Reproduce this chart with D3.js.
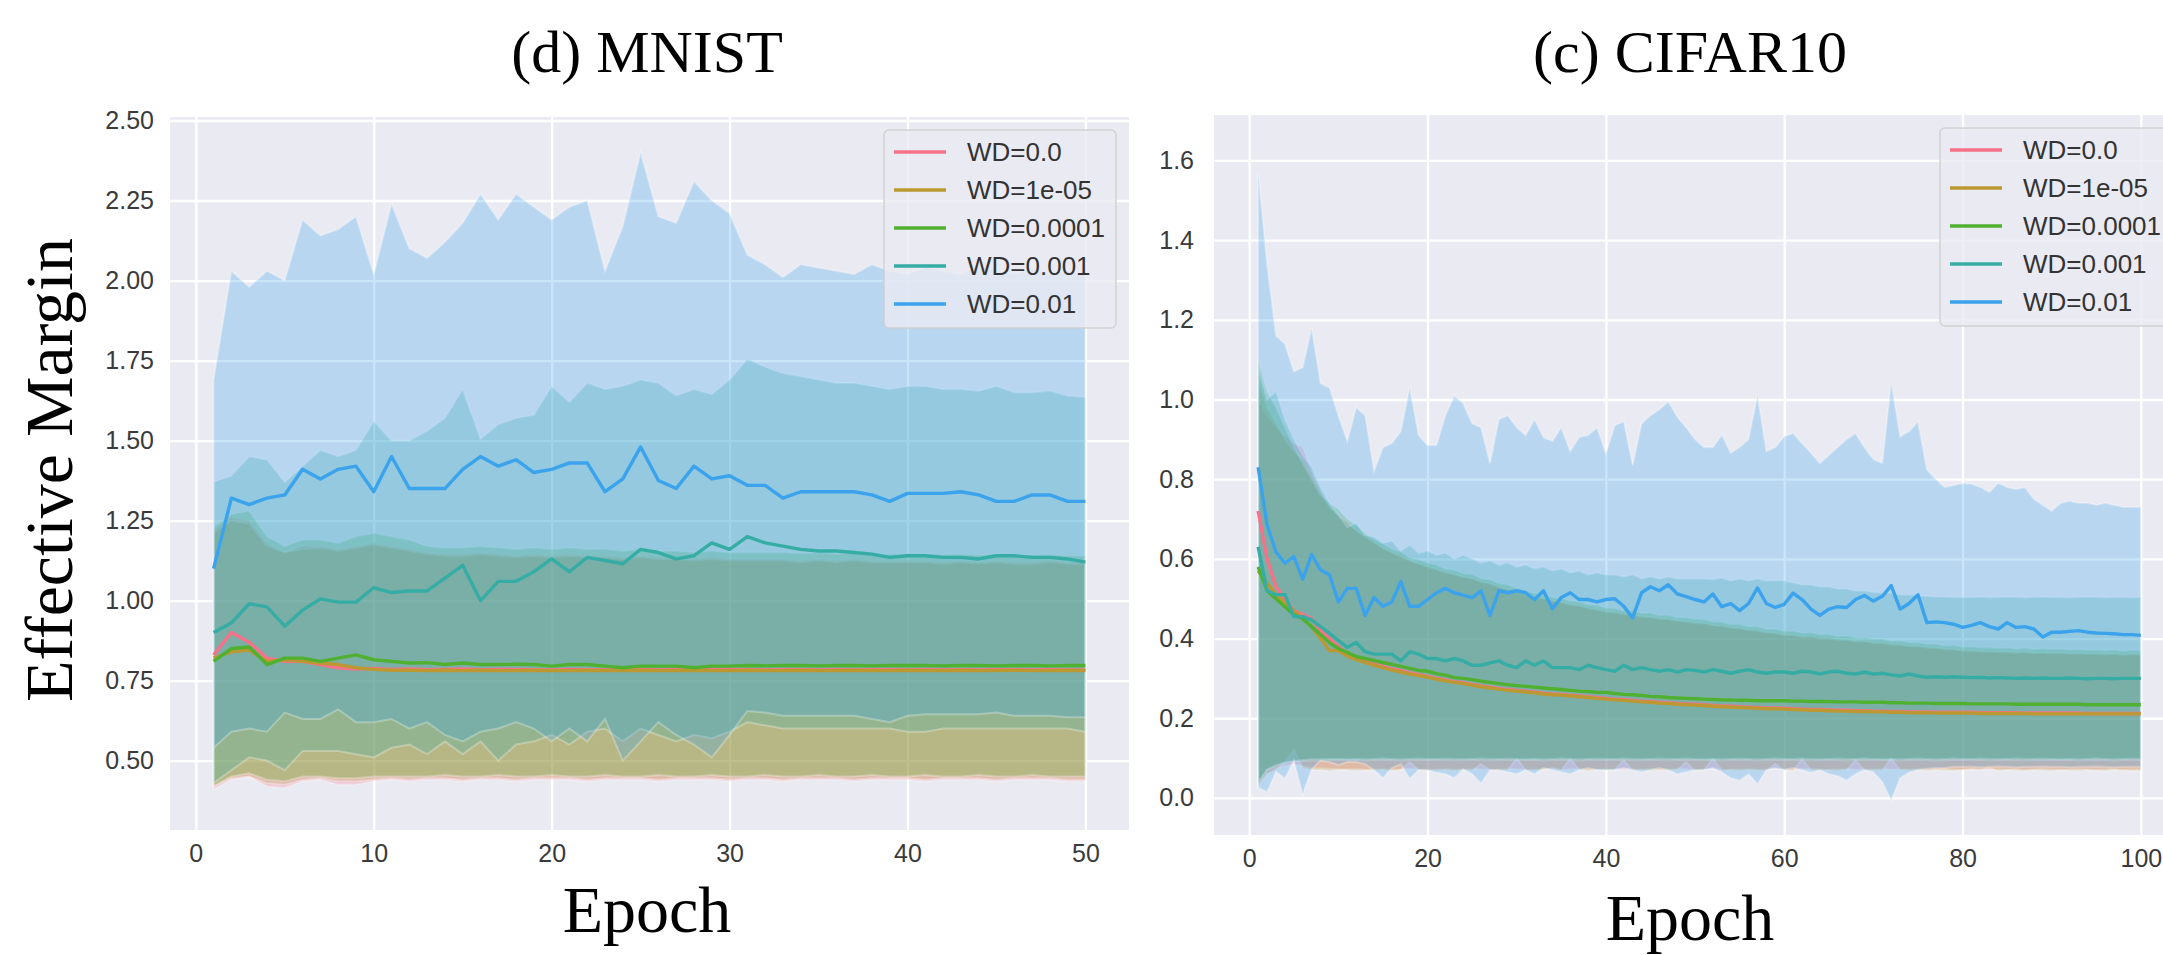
<!DOCTYPE html>
<html><head><meta charset="utf-8">
<script src="https://cdn.jsdelivr.net/npm/d3@7/dist/d3.min.js"></script>
<style>body{margin:0;background:#fff}svg{display:block}</style>
</head><body>
<svg id="chart" width="2163" height="955"></svg>
<script>
// ---------- legend / series ----------
const seriesNames = ["WD=0.0","WD=1e-05","WD=0.0001","WD=0.001","WD=0.01"];
const seriesColors = ["#f77189","#bb9832","#50b131","#36ada4","#3ba3ec"];

// ---------- tick labels ----------
const mnistXTicks = [0,10,20,30,40,50];
const mnistYTicks = [0.50,0.75,1.00,1.25,1.50,1.75,2.00,2.25,2.50];
const cifarXTicks = [0,20,40,60,80,100];
const cifarYTicks = [0.0,0.2,0.4,0.6,0.8,1.0,1.2,1.4,1.6];

// ---------- MNIST (epochs 1..50) ----------
const mnistMean0 = [0.83,0.90,0.87,0.82,0.81,0.81,0.80,0.79,0.786,0.788, 0.785,0.786,0.784,0.785,0.786,0.784,0.785,0.785,0.784,0.783, 0.785,0.784,0.783,0.784,0.785,0.783,0.784,0.783,0.784,0.785, 0.784,0.783,0.784,0.784,0.783,0.784,0.783,0.784,0.784,0.783, 0.784,0.783,0.784,0.783,0.784,0.784,0.783,0.784,0.783,0.783];
const mnistLo0 = [0.41,0.44,0.45,0.42,0.415,0.435,0.44,0.425,0.425,0.435, 0.44,0.435,0.44,0.44,0.435,0.44,0.44,0.435,0.44,0.44, 0.44,0.435,0.44,0.44,0.44,0.435,0.44,0.44,0.44,0.435, 0.44,0.44,0.435,0.44,0.44,0.44,0.435,0.44,0.44,0.44, 0.435,0.44,0.44,0.44,0.435,0.44,0.44,0.44,0.435,0.435];
const mnistHi0 = [1.22,1.26,1.25,1.18,1.15,1.17,1.17,1.16,1.17,1.18, 1.17,1.16,1.15,1.145,1.145,1.15,1.145,1.14,1.145,1.14, 1.145,1.14,1.14,1.135,1.14,1.135,1.135,1.13,1.135,1.13, 1.13,1.13,1.13,1.125,1.13,1.125,1.13,1.125,1.125,1.125, 1.125,1.12,1.125,1.12,1.125,1.12,1.12,1.125,1.12,1.12];

const mnistMean1 = [0.82,0.84,0.845,0.81,0.815,0.81,0.805,0.80,0.79,0.785, 0.782,0.782,0.781,0.782,0.781,0.782,0.781,0.781,0.782,0.781, 0.781,0.782,0.781,0.781,0.782,0.781,0.781,0.782,0.781,0.781, 0.782,0.781,0.781,0.782,0.781,0.781,0.782,0.781,0.781,0.782, 0.781,0.781,0.782,0.781,0.781,0.782,0.781,0.781,0.782,0.781];
const mnistLo1 = [0.42,0.445,0.45,0.43,0.425,0.44,0.445,0.435,0.435,0.44, 0.445,0.44,0.445,0.445,0.44,0.445,0.445,0.44,0.445,0.445, 0.445,0.44,0.445,0.445,0.445,0.44,0.445,0.445,0.445,0.44, 0.445,0.445,0.44,0.445,0.445,0.445,0.44,0.445,0.445,0.445, 0.44,0.445,0.445,0.445,0.44,0.445,0.445,0.445,0.44,0.44];
const mnistHi1 = [1.21,1.25,1.24,1.17,1.15,1.16,1.165,1.155,1.165,1.175, 1.165,1.155,1.145,1.14,1.14,1.145,1.14,1.135,1.14,1.135, 1.14,1.135,1.135,1.13,1.135,1.13,1.13,1.125,1.13,1.125, 1.125,1.125,1.125,1.12,1.125,1.12,1.125,1.12,1.12,1.12, 1.12,1.115,1.12,1.115,1.12,1.115,1.115,1.12,1.115,1.115];

const mnistMean2 = [0.81,0.85,0.855,0.80,0.82,0.82,0.81,0.82,0.83,0.815, 0.81,0.805,0.806,0.80,0.805,0.80,0.80,0.801,0.80,0.795, 0.80,0.80,0.795,0.79,0.795,0.795,0.795,0.79,0.795,0.795, 0.797,0.796,0.797,0.797,0.796,0.797,0.797,0.796,0.797,0.797, 0.797,0.796,0.797,0.797,0.796,0.797,0.797,0.796,0.797,0.797];
const mnistLo2 = [0.42,0.45,0.46,0.44,0.435,0.45,0.45,0.445,0.445,0.45, 0.45,0.45,0.45,0.455,0.45,0.45,0.455,0.45,0.45,0.455, 0.45,0.45,0.455,0.45,0.45,0.455,0.45,0.45,0.455,0.45, 0.45,0.455,0.45,0.45,0.455,0.45,0.45,0.455,0.45,0.45, 0.455,0.45,0.45,0.455,0.45,0.45,0.455,0.45,0.45,0.45];
const mnistHi2 = [1.23,1.27,1.28,1.20,1.17,1.19,1.19,1.18,1.20,1.21, 1.20,1.19,1.17,1.165,1.165,1.17,1.165,1.16,1.165,1.16, 1.165,1.16,1.16,1.155,1.16,1.155,1.155,1.15,1.155,1.15, 1.15,1.15,1.15,1.148,1.15,1.146,1.15,1.146,1.145,1.146, 1.145,1.143,1.145,1.142,1.145,1.142,1.142,1.144,1.14,1.14];

const mnistMean3 = [0.90,0.93,0.99,0.98,0.92,0.97,1.005,0.995,0.995,1.04, 1.025,1.03,1.03,1.07,1.11,1.00,1.06,1.06,1.09,1.13, 1.09,1.135,1.125,1.115,1.16,1.15,1.13,1.14,1.18,1.16, 1.20,1.18,1.17,1.16,1.155,1.155,1.15,1.145,1.135,1.14, 1.14,1.135,1.135,1.13,1.14,1.14,1.135,1.135,1.13,1.12];
const mnistLo3 = [0.43,0.47,0.51,0.50,0.47,0.53,0.53,0.53,0.52,0.51, 0.54,0.55,0.52,0.56,0.52,0.56,0.50,0.55,0.56,0.58, 0.55,0.59,0.60,0.56,0.60,0.58,0.56,0.58,0.57,0.59, 0.62,0.61,0.60,0.60,0.60,0.60,0.60,0.60,0.60,0.59, 0.59,0.60,0.60,0.60,0.60,0.60,0.60,0.60,0.60,0.59];
const mnistHi3 = [1.37,1.39,1.45,1.44,1.37,1.42,1.47,1.45,1.47,1.56, 1.50,1.50,1.53,1.57,1.66,1.505,1.55,1.57,1.58,1.67, 1.62,1.68,1.66,1.67,1.69,1.68,1.64,1.66,1.645,1.69, 1.755,1.73,1.71,1.70,1.69,1.68,1.68,1.67,1.66,1.67, 1.67,1.66,1.66,1.655,1.67,1.65,1.65,1.655,1.64,1.635];

const mnistMean4 = [1.10,1.32,1.30,1.32,1.33,1.41,1.38,1.41,1.42,1.34, 1.45,1.35,1.35,1.35,1.41,1.45,1.42,1.44,1.40,1.41, 1.43,1.43,1.34,1.38,1.48,1.375,1.35,1.42,1.38,1.39, 1.36,1.36,1.32,1.34,1.34,1.34,1.34,1.33,1.31,1.335, 1.335,1.335,1.34,1.33,1.31,1.31,1.33,1.33,1.31,1.31];
const mnistLo4 = [0.54,0.59,0.60,0.59,0.65,0.63,0.63,0.66,0.62,0.62, 0.63,0.60,0.62,0.58,0.56,0.59,0.60,0.62,0.60,0.56, 0.60,0.56,0.63,0.50,0.56,0.62,0.58,0.55,0.51,0.58, 0.655,0.65,0.64,0.64,0.64,0.64,0.64,0.63,0.62,0.64, 0.645,0.645,0.645,0.645,0.65,0.64,0.64,0.64,0.635,0.635];
const mnistHi4 = [1.69,2.03,1.98,2.03,2.00,2.19,2.14,2.16,2.20,2.02, 2.24,2.10,2.07,2.12,2.18,2.27,2.19,2.27,2.23,2.19, 2.23,2.25,2.03,2.17,2.40,2.20,2.18,2.31,2.25,2.21, 2.08,2.05,2.01,2.05,2.04,2.03,2.02,2.05,2.03,2.02, 2.04,2.03,2.02,2.05,2.03,2.02,2.04,2.02,2.03,2.02];

// ---------- CIFAR10 (epochs 1..100) ----------
const cifarMean0 = [0.72,0.60,0.53,0.50,0.47,0.46,0.45,0.42,0.40,0.38, 0.362,0.352,0.342,0.336,0.33,0.324,0.32,0.314,0.31,0.305, 0.30,0.296,0.292,0.289,0.285,0.281,0.278,0.275,0.272,0.27, 0.268,0.266,0.263,0.261,0.26,0.258,0.256,0.254,0.252,0.25, 0.248,0.247,0.245,0.243,0.242,0.24,0.239,0.237,0.236,0.235, 0.234,0.232,0.231,0.23,0.229,0.228,0.227,0.226,0.226,0.225, 0.224,0.223,0.222,0.222,0.221,0.22,0.22,0.219,0.219,0.218, 0.218,0.217,0.217,0.216,0.216,0.216,0.215,0.215,0.215,0.215, 0.215,0.214,0.214,0.214,0.214,0.214,0.213,0.213,0.213,0.213, 0.213,0.213,0.213,0.212,0.212,0.212,0.212,0.212,0.212,0.212];
const cifarLo0 = [0.03,0.06,0.075,0.08,0.085,0.08,0.075,0.075,0.074,0.073, 0.072,0.073,0.071,0.072,0.073,0.071,0.072,0.073,0.072,0.071, 0.072,0.073,0.071,0.072,0.073,0.072,0.071,0.072,0.073,0.072, 0.071,0.072,0.073,0.072,0.071,0.072,0.073,0.071,0.072,0.072, 0.073,0.071,0.072,0.072,0.073,0.071,0.072,0.073,0.072,0.071, 0.072,0.073,0.071,0.072,0.072,0.073,0.071,0.072,0.073,0.072, 0.071,0.072,0.073,0.072,0.071,0.072,0.073,0.071,0.072,0.072, 0.073,0.071,0.072,0.072,0.073,0.071,0.072,0.073,0.072,0.071, 0.072,0.073,0.071,0.072,0.072,0.073,0.071,0.072,0.073,0.072, 0.071,0.072,0.073,0.072,0.071,0.072,0.073,0.071,0.072,0.072];
const cifarHi0 = [1.00,0.96,0.93,0.91,0.89,0.88,0.82,0.77,0.73,0.71, 0.69,0.67,0.655,0.64,0.625,0.615,0.605,0.595,0.587,0.58, 0.573,0.567,0.561,0.555,0.55,0.543,0.537,0.53,0.523,0.517, 0.51,0.505,0.50,0.495,0.49,0.486,0.482,0.477,0.472,0.468, 0.465,0.462,0.459,0.456,0.453,0.45,0.448,0.445,0.442,0.44, 0.437,0.434,0.431,0.428,0.425,0.422,0.419,0.416,0.413,0.41, 0.408,0.406,0.404,0.402,0.40,0.398,0.396,0.394,0.392,0.39, 0.388,0.386,0.384,0.382,0.38,0.378,0.376,0.374,0.372,0.37, 0.369,0.368,0.367,0.367,0.366,0.365,0.365,0.364,0.364,0.364, 0.363,0.363,0.362,0.362,0.361,0.361,0.361,0.36,0.36,0.36];

const cifarMean1 = [0.57,0.54,0.51,0.49,0.47,0.45,0.43,0.40,0.37,0.37, 0.356,0.347,0.34,0.333,0.327,0.321,0.316,0.311,0.307,0.303, 0.298,0.294,0.29,0.287,0.283,0.279,0.276,0.273,0.27,0.268, 0.266,0.264,0.261,0.259,0.258,0.256,0.254,0.252,0.25,0.248, 0.246,0.245,0.243,0.241,0.24,0.238,0.237,0.235,0.234,0.233, 0.232,0.23,0.229,0.228,0.227,0.226,0.225,0.224,0.224,0.223, 0.222,0.221,0.22,0.22,0.219,0.218,0.218,0.217,0.217,0.216, 0.216,0.215,0.215,0.214,0.214,0.214,0.213,0.213,0.213,0.213, 0.213,0.212,0.212,0.212,0.212,0.212,0.212,0.211,0.211,0.211, 0.211,0.211,0.211,0.211,0.211,0.211,0.211,0.211,0.211,0.211];
const cifarLo1 = [0.03,0.06,0.07,0.09,0.12,0.075,0.07,0.07,0.068,0.07, 0.07,0.068,0.07,0.069,0.07,0.068,0.07,0.09,0.07,0.068, 0.069,0.07,0.068,0.07,0.069,0.085,0.07,0.068,0.07,0.10, 0.07,0.068,0.07,0.075,0.069,0.10,0.07,0.068,0.07,0.069, 0.07,0.095,0.069,0.07,0.068,0.07,0.069,0.07,0.09,0.068, 0.07,0.10,0.069,0.07,0.068,0.07,0.069,0.068,0.085,0.07, 0.068,0.098,0.07,0.069,0.07,0.068,0.07,0.095,0.069,0.07, 0.068,0.10,0.07,0.069,0.07,0.068,0.07,0.069,0.068,0.07, 0.072,0.07,0.075,0.068,0.07,0.069,0.068,0.07,0.069,0.068, 0.07,0.069,0.068,0.07,0.069,0.068,0.07,0.069,0.068,0.068];
const cifarHi1 = [1.05,0.98,0.94,0.90,0.87,0.85,0.81,0.77,0.73,0.71, 0.69,0.672,0.656,0.642,0.628,0.616,0.607,0.596,0.588,0.58, 0.574,0.566,0.561,0.554,0.551,0.542,0.538,0.529,0.524,0.516, 0.511,0.504,0.501,0.494,0.491,0.485,0.483,0.476,0.473,0.467, 0.466,0.461,0.46,0.455,0.454,0.449,0.449,0.444,0.443,0.439, 0.438,0.433,0.432,0.427,0.426,0.421,0.42,0.415,0.414,0.409, 0.409,0.405,0.405,0.401,0.401,0.397,0.397,0.393,0.393,0.389, 0.389,0.385,0.385,0.381,0.381,0.377,0.377,0.373,0.373,0.369, 0.37,0.367,0.368,0.366,0.367,0.364,0.366,0.363,0.365,0.363, 0.364,0.362,0.363,0.361,0.362,0.36,0.362,0.359,0.361,0.36];

const cifarMean2 = [0.58,0.52,0.50,0.48,0.46,0.45,0.43,0.41,0.39,0.375, 0.365,0.355,0.35,0.345,0.34,0.335,0.33,0.325,0.32,0.318, 0.312,0.308,0.302,0.30,0.297,0.293,0.29,0.287,0.284,0.282, 0.28,0.278,0.276,0.274,0.272,0.27,0.268,0.267,0.265,0.265, 0.262,0.26,0.259,0.257,0.255,0.254,0.252,0.251,0.25,0.249, 0.248,0.247,0.246,0.246,0.245,0.245,0.244,0.244,0.244,0.244, 0.243,0.243,0.242,0.242,0.242,0.241,0.241,0.241,0.240,0.240, 0.240,0.239,0.239,0.238,0.238,0.238,0.237,0.237,0.237,0.237, 0.236,0.236,0.236,0.236,0.236,0.235,0.235,0.235,0.235,0.235, 0.235,0.235,0.235,0.234,0.234,0.234,0.234,0.234,0.234,0.234];
const cifarLo2 = [0.035,0.07,0.08,0.09,0.092,0.093,0.094,0.094,0.095,0.095, 0.095,0.096,0.094,0.095,0.096,0.095,0.094,0.095,0.096,0.095, 0.095,0.096,0.094,0.095,0.096,0.095,0.094,0.095,0.096,0.095, 0.095,0.096,0.094,0.095,0.096,0.095,0.094,0.095,0.096,0.095, 0.095,0.096,0.094,0.095,0.096,0.095,0.094,0.095,0.096,0.095, 0.095,0.096,0.094,0.095,0.096,0.095,0.094,0.095,0.096,0.095, 0.095,0.096,0.094,0.095,0.096,0.095,0.094,0.095,0.096,0.095, 0.095,0.096,0.094,0.095,0.096,0.095,0.094,0.095,0.096,0.095, 0.095,0.096,0.094,0.095,0.096,0.095,0.094,0.095,0.096,0.095, 0.095,0.096,0.094,0.095,0.096,0.095,0.094,0.095,0.096,0.095];
const cifarHi2 = [1.10,1.02,0.98,0.93,0.88,0.84,0.80,0.76,0.74,0.725, 0.70,0.685,0.665,0.65,0.638,0.625,0.618,0.603,0.598,0.59, 0.585,0.575,0.572,0.563,0.562,0.551,0.548,0.538,0.535,0.526, 0.521,0.513,0.511,0.503,0.502,0.494,0.493,0.485,0.484,0.477, 0.476,0.47,0.47,0.464,0.464,0.458,0.459,0.453,0.453,0.449, 0.448,0.442,0.442,0.436,0.436,0.43,0.43,0.424,0.424,0.419, 0.419,0.414,0.415,0.41,0.411,0.406,0.407,0.402,0.403,0.399, 0.399,0.394,0.395,0.39,0.391,0.386,0.387,0.382,0.383,0.379, 0.38,0.377,0.378,0.376,0.377,0.374,0.376,0.373,0.375,0.373, 0.374,0.372,0.373,0.371,0.372,0.37,0.372,0.369,0.371,0.37];

const cifarMean3 = [0.63,0.52,0.51,0.51,0.455,0.455,0.447,0.43,0.413,0.395, 0.378,0.39,0.367,0.361,0.361,0.361,0.344,0.367,0.361,0.35, 0.35,0.344,0.35,0.344,0.333,0.333,0.339,0.344,0.333,0.327, 0.344,0.333,0.344,0.327,0.327,0.327,0.322,0.333,0.327,0.322, 0.318,0.333,0.322,0.327,0.322,0.318,0.322,0.316,0.322,0.320, 0.316,0.322,0.318,0.313,0.318,0.322,0.316,0.313,0.316,0.316, 0.313,0.318,0.316,0.311,0.316,0.318,0.313,0.311,0.316,0.311, 0.313,0.309,0.306,0.311,0.306,0.303,0.304,0.303,0.304,0.303, 0.302,0.303,0.301,0.302,0.301,0.300,0.301,0.300,0.301,0.300, 0.300,0.301,0.300,0.299,0.300,0.300,0.299,0.300,0.300,0.300];
const cifarLo3 = [0.04,0.072,0.082,0.088,0.092,0.095,0.097,0.097,0.098,0.098, 0.097,0.098,0.097,0.098,0.099,0.098,0.097,0.098,0.099,0.098, 0.098,0.099,0.098,0.097,0.098,0.099,0.098,0.098,0.099,0.098, 0.097,0.098,0.097,0.098,0.099,0.098,0.097,0.098,0.099,0.098, 0.098,0.099,0.098,0.097,0.098,0.099,0.098,0.098,0.099,0.098, 0.097,0.098,0.097,0.098,0.099,0.098,0.097,0.098,0.099,0.098, 0.098,0.099,0.098,0.097,0.098,0.099,0.098,0.098,0.099,0.098, 0.097,0.098,0.097,0.098,0.099,0.098,0.097,0.098,0.099,0.098, 0.098,0.099,0.098,0.097,0.098,0.099,0.098,0.098,0.099,0.098, 0.097,0.098,0.097,0.098,0.099,0.098,0.097,0.098,0.099,0.098];
const cifarHi3 = [1.08,1.00,1.02,0.95,0.90,0.86,0.83,0.78,0.74,0.71, 0.68,0.69,0.66,0.655,0.64,0.645,0.62,0.635,0.615,0.62, 0.61,0.615,0.60,0.61,0.60,0.59,0.595,0.585,0.59,0.58, 0.585,0.575,0.58,0.57,0.575,0.565,0.57,0.56,0.565,0.56, 0.56,0.555,0.56,0.55,0.555,0.55,0.555,0.55,0.55,0.55, 0.55,0.548,0.552,0.545,0.55,0.545,0.55,0.545,0.546,0.545, 0.54,0.535,0.535,0.53,0.53,0.525,0.525,0.52,0.52,0.516, 0.515,0.515,0.51,0.51,0.508,0.506,0.505,0.505,0.504,0.504, 0.504,0.505,0.503,0.504,0.505,0.504,0.503,0.504,0.505,0.504, 0.504,0.503,0.504,0.505,0.504,0.503,0.504,0.504,0.503,0.504];

const cifarMean4 = [0.83,0.685,0.617,0.589,0.606,0.549,0.611,0.572,0.560,0.492, 0.526,0.526,0.458,0.503,0.481,0.492,0.543,0.481,0.481,0.498, 0.515,0.526,0.515,0.509,0.503,0.520,0.458,0.520,0.515,0.520, 0.515,0.498,0.520,0.475,0.503,0.515,0.498,0.498,0.492,0.498, 0.500,0.481,0.452,0.515,0.530,0.520,0.535,0.512,0.505,0.498, 0.492,0.512,0.480,0.488,0.470,0.488,0.527,0.488,0.478,0.486, 0.514,0.498,0.474,0.458,0.474,0.480,0.478,0.498,0.508,0.494, 0.506,0.533,0.474,0.488,0.510,0.440,0.442,0.440,0.436,0.428, 0.433,0.440,0.430,0.424,0.440,0.428,0.430,0.424,0.404,0.416, 0.416,0.418,0.420,0.416,0.414,0.413,0.412,0.410,0.410,0.408];
const cifarLo4 = [0.026,0.015,0.066,0.049,0.094,0.009,0.072,0.094,0.090,0.083, 0.090,0.090,0.085,0.070,0.050,0.075,0.085,0.049,0.070,0.070, 0.064,0.060,0.050,0.072,0.060,0.037,0.070,0.070,0.065,0.060, 0.070,0.060,0.075,0.070,0.065,0.060,0.070,0.075,0.070,0.070, 0.070,0.075,0.070,0.065,0.070,0.075,0.070,0.060,0.065,0.070, 0.070,0.075,0.065,0.050,0.044,0.060,0.035,0.070,0.075,0.070, 0.075,0.070,0.064,0.070,0.060,0.055,0.044,0.060,0.070,0.065, 0.040,-0.006,0.050,0.064,0.070,0.073,0.075,0.075,0.078,0.078, 0.078,0.077,0.078,0.079,0.078,0.077,0.078,0.078,0.079,0.078, 0.078,0.077,0.078,0.078,0.079,0.078,0.077,0.078,0.078,0.078];
const cifarHi4 = [1.57,1.34,1.16,1.14,1.07,1.08,1.18,1.04,1.03,0.96, 0.895,0.98,0.96,0.82,0.88,0.89,0.92,1.03,0.91,0.885, 0.885,0.96,1.01,0.99,0.94,0.93,0.84,0.95,0.96,0.93, 0.91,0.95,0.905,0.895,0.93,0.87,0.905,0.91,0.93,0.865, 0.935,0.945,0.835,0.94,0.96,0.975,0.995,0.957,0.93,0.90, 0.88,0.88,0.911,0.866,0.88,0.90,1.01,0.87,0.88,0.907, 0.915,0.89,0.866,0.84,0.86,0.88,0.90,0.915,0.88,0.85, 0.84,1.044,0.907,0.92,0.944,0.824,0.80,0.78,0.785,0.79, 0.788,0.78,0.767,0.79,0.78,0.775,0.78,0.75,0.735,0.72, 0.74,0.745,0.74,0.74,0.735,0.74,0.735,0.73,0.73,0.73];

// ---------- drawing ----------
const svg = d3.select("#chart");
const BAND_ALPHA = 0.28;
const SANS = "'Liberation Sans', Arial, sans-serif";
const SERIF = "'Liberation Serif', 'Times New Roman', serif";

function drawPanel(p) {
  const g = svg.append("g");
  const x = d3.scaleLinear().domain(p.xDomain).range(p.xRange);
  const y = d3.scaleLinear().domain(p.yDomain).range(p.yRange);
  const left = p.xRange[0], right = p.xRange[1], top = p.yRange[1], bottom = p.yRange[0];

  g.append("rect").attr("x", left).attr("y", top)
    .attr("width", right - left).attr("height", bottom - top).attr("fill", "#eaeaf2");

  // grid
  g.append("g").attr("transform", `translate(0,${bottom})`)
    .call(d3.axisBottom(x).tickValues(p.xTicks).tickSize(-(bottom - top)).tickFormat(""))
    .call(a => a.select(".domain").remove())
    .call(a => a.selectAll("line").attr("stroke", "#fff").attr("stroke-width", 2.3));
  g.append("g").attr("transform", `translate(${left},0)`)
    .call(d3.axisLeft(y).tickValues(p.yTicks).tickSize(-(right - left)).tickFormat(""))
    .call(a => a.select(".domain").remove())
    .call(a => a.selectAll("line").attr("stroke", "#fff").attr("stroke-width", 2.3));

  const data = p.series.map(s => s.mean.map((m, i) => ({ e: i + 1, m: m, lo: s.lo[i], hi: s.hi[i] })));

  const area = d3.area().x(d => x(d.e)).y0(d => y(d.lo)).y1(d => y(d.hi));
  const line = d3.line().x(d => x(d.e)).y(d => y(d.m));

  data.forEach((d, k) => {
    g.append("path").attr("d", area(d))
      .attr("fill", seriesColors[k]).attr("fill-opacity", BAND_ALPHA)
      .attr("stroke", "#ffffff").attr("stroke-opacity", BAND_ALPHA).attr("stroke-width", 2);
  });
  data.forEach((d, k) => {
    g.append("path").attr("d", line(d))
      .attr("fill", "none").attr("stroke", seriesColors[k])
      .attr("stroke-width", 3.4).attr("stroke-linejoin", "round").attr("stroke-linecap", "butt");
  });

  // tick labels
  const yAx = g.append("g").attr("transform", `translate(${left},0)`)
    .call(d3.axisLeft(y).tickValues(p.yTicks).tickSize(0).tickPadding(p.yPad).tickFormat(d3.format(p.yFmt)));
  yAx.select(".domain").remove();
  yAx.selectAll("text").attr("font-family", SANS).attr("font-size", 25).attr("fill", "#3a3a3a");
  const xAx = g.append("g").attr("transform", `translate(0,${bottom})`)
    .call(d3.axisBottom(x).tickValues(p.xTicks).tickSize(0).tickPadding(p.xPad).tickFormat(d3.format("d")));
  xAx.select(".domain").remove();
  xAx.selectAll("text").attr("font-family", SANS).attr("font-size", 25).attr("fill", "#3a3a3a");

  // legend (upper right)
  const lw = 232, lh = 198;
  const lx = right - 13 - lw, ly = top + 13;
  const lg = g.append("g");
  lg.append("rect").attr("x", lx).attr("y", ly).attr("width", lw).attr("height", lh)
    .attr("rx", 5).attr("fill", "#eaeaf2").attr("fill-opacity", 0.8)
    .attr("stroke", "#cccccc").attr("stroke-opacity", 0.8).attr("stroke-width", 1.5);
  seriesNames.forEach((name, k) => {
    const cy = ly + 22 + k * 38;
    lg.append("line").attr("x1", lx + 10).attr("x2", lx + 62).attr("y1", cy).attr("y2", cy)
      .attr("stroke", seriesColors[k]).attr("stroke-width", 3.4);
    lg.append("text").attr("x", lx + 83).attr("y", cy).attr("dy", "0.36em")
      .attr("font-family", SANS).attr("font-size", 26).attr("fill", "#333").text(name);
  });

  // title & x label
  svg.append("text").attr("x", p.titleX).attr("y", 72).attr("text-anchor", "middle")
    .attr("font-family", SERIF).attr("font-size", 60).attr("fill", "#000").text(p.title);
  svg.append("text").attr("x", p.titleX).attr("y", p.xlabelY).attr("text-anchor", "middle")
    .attr("font-family", SERIF).attr("font-size", 66).attr("fill", "#000").text("Epoch");
}

drawPanel({
  title: "(d) MNIST", titleX: 647, xlabelY: 932,
  xDomain: [-1.45, 52.45], xRange: [170, 1129],
  yDomain: [0.283, 2.511], yRange: [830, 117],
  xTicks: mnistXTicks, yTicks: mnistYTicks, yFmt: ".2f", xPad: 14, yPad: 16,
  series: [
    { mean: mnistMean0, lo: mnistLo0, hi: mnistHi0 },
    { mean: mnistMean1, lo: mnistLo1, hi: mnistHi1 },
    { mean: mnistMean2, lo: mnistLo2, hi: mnistHi2 },
    { mean: mnistMean3, lo: mnistLo3, hi: mnistHi3 },
    { mean: mnistMean4, lo: mnistLo4, hi: mnistHi4 }
  ]
});

drawPanel({
  title: "(c) CIFAR10", titleX: 1690, xlabelY: 940,
  xDomain: [-3.95, 104.95], xRange: [1214, 2185],
  yDomain: [-0.093, 1.714], yRange: [835, 115],
  xTicks: cifarXTicks, yTicks: cifarYTicks, yFmt: ".1f", xPad: 14, yPad: 20,
  series: [
    { mean: cifarMean0, lo: cifarLo0, hi: cifarHi0 },
    { mean: cifarMean1, lo: cifarLo1, hi: cifarHi1 },
    { mean: cifarMean2, lo: cifarLo2, hi: cifarHi2 },
    { mean: cifarMean3, lo: cifarLo3, hi: cifarHi3 },
    { mean: cifarMean4, lo: cifarLo4, hi: cifarHi4 }
  ]
});

// y-axis label (left panel only)
svg.append("text")
  .attr("transform", "translate(72,470) rotate(-90)")
  .attr("text-anchor", "middle")
  .attr("font-family", SERIF).attr("font-size", 68)
  .attr("fill", "#000").text("Effective Margin");
</script>
</body></html>
